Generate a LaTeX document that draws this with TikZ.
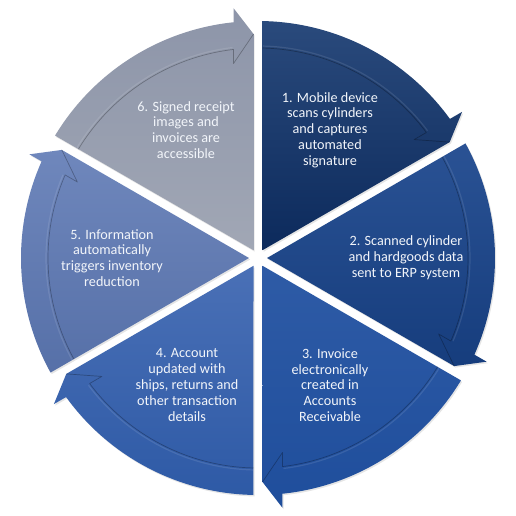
\documentclass[tikz,border=0pt]{standalone}
\usepackage{fontspec}
\setmainfont{Carlito}
\definecolor{sAt}{HTML}{2A4A7C}\definecolor{sAb}{HTML}{0C2A5C}
\definecolor{sBt}{HTML}{2A5294}\definecolor{sBb}{HTML}{163D7D}
\definecolor{sCt}{HTML}{2E5BA6}\definecolor{sCb}{HTML}{1F4E9C}
\definecolor{sDt}{HTML}{4A70B6}\definecolor{sDb}{HTML}{2E5AA6}
\definecolor{sEt}{HTML}{6F87BC}\definecolor{sEb}{HTML}{5670A8}
\definecolor{sFt}{HTML}{8D95A9}\definecolor{sFb}{HTML}{A1A7B5}
\definecolor{txtc}{HTML}{F2F5FA}
\tikzset{
  segtext/.style={text=txtc, font=\fontsize{14.2}{15.8}\selectfont, align=center, inner sep=0pt},
}
% #1 rotation (angle of the clockwise boundary), #2 top colour, #3 bottom colour
\newcommand\cycseg[3]{%
  \fill[black, opacity=0.10, xshift=1.2pt, yshift=-1.5pt]
    ({#1+30}:9) -- ({#1+58.91}:237)
    arc[start angle={#1+58.91}, end angle={#1+5.93}, radius=237]
    -- ({#1+5.60}:251) -- ({#1+1.151}:224) -- cycle;
  \shade[top color=#2, bottom color=#3]
    ({#1+30}:9) -- ({#1+58.91}:237)
    arc[start angle={#1+58.91}, end angle={#1+5.93}, radius=237]
    -- ({#1+5.60}:251) -- ({#1+1.151}:224) -- cycle;
  \draw[white, opacity=0.10, line width=1.2pt]
    ({#1+58.6}:212) arc[start angle={#1+58.6}, end angle={#1+6.9}, radius=212];
  \draw[black, opacity=0.28, line width=0.7pt, line join=round]
    ({#1+58.77}:210) arc[start angle={#1+58.77}, end angle={#1+6.70}, radius=210]
    -- ({#1+7.18}:196) -- ({#1+1.151}:224);
}
\begin{document}
\begin{tikzpicture}[x=1pt, y=1pt]
  \useasboundingbox[fill=white] (-258,-258) rectangle (258,258);
  \cycseg{30}{sAt}{sAb}
  \cycseg{-30}{sBt}{sBb}
  \cycseg{-90}{sCt}{sCb}
  \cycseg{-150}{sDt}{sDb}
  \cycseg{150}{sEt}{sEb}
  \cycseg{90}{sFt}{sFb}
  \node[segtext] (t1) at (72,128) {1. Mobile device\\scans cylinders\\and captures\\automated\\signature};
  \node[segtext] (t2) at (148,0) {2. Scanned cylinder\\and hardgoods data\\sent to ERP system};
  \node[segtext] (t3) at (72,-127) {3. Invoice\\electronically\\created in\\Accounts\\Receivable};
  \node[segtext] (t4) at (-71,-127) {4. Account\\updated with\\ships, returns and\\other transaction\\details};
  \node[segtext] (t5) at (-146,0) {5. Information\\automatically\\triggers inventory\\reduction};
  \node[segtext] (t6) at (-72,128) {6. Signed receipt\\images and\\invoices are\\accessible};
\end{tikzpicture}
\end{document}
